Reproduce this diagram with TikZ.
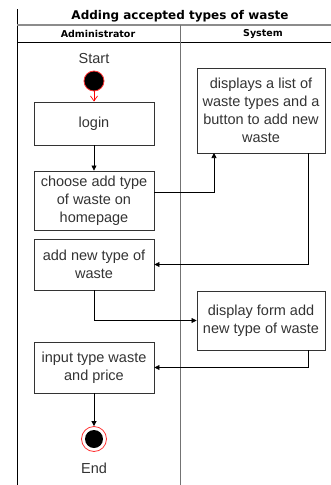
\documentclass[tikz,border=0pt]{standalone}
\usepackage{fontspec}
\setmainfont{Liberation Sans}
\newfontfamily\headfont{DejaVu Sans}
\usetikzlibrary{arrows.meta}

\begin{document}
\begin{tikzpicture}[x=1pt, y=-1pt,
    action/.style={
        draw=black!80,
        line width=0.9pt,
        minimum width=120pt,
        align=center,
        inner sep=1pt,
        font=\fontsize{14.5}{18}\selectfont,
        text=black!80
    },
    flow/.style={
        draw=black,
        line width=0.7pt,
        -{Triangle[length=5pt,width=5pt]}
    },
    lane/.style={
        font=\headfont\bfseries\fontsize{9.5}{11}\selectfont
    },
    label/.style={
        font=\fontsize{14.5}{18}\selectfont,
        text=black!80
    }
]
\useasboundingbox (0,0) rectangle (331,485);

%%%%%%%%%%%%%%%%%%%%%%%%
% Pool y lanes
%%%%%%%%%%%%%%%%%%%%%%%%

\draw[line width=1pt] (17,9) -- (17,485);
\draw[line width=1.6pt, black!45] (17,25) -- (331,25);
\draw[line width=1pt] (17,42) -- (331,42);
\draw[line width=1pt, black!55] (180,25) -- (180,485);

\node[lane, font=\headfont\bfseries\fontsize{12}{14}\selectfont] (title) at (180,16.5) {Adding accepted types of waste};
\node[lane] (admin) at (98,34) {Administrator};
\node[lane] (system) at (263,34) {System};

%%%%%%%%%%%%%%%%%%%%%%%%
% Administrator
%%%%%%%%%%%%%%%%%%%%%%%%

% --- Start ---
\node[label] (starttxt) at (94,59) {Start};
\node[circle, fill=black, draw=red!80, line width=0.8pt, minimum size=20pt, inner sep=0pt] (start) at (94,81) {};

% --- Acciones ---
\node[action, minimum height=43pt] (login) at (94,123.5) {login};
\node[action, minimum height=59pt] (choose) at (94,200.5) {choose add type\\of waste on\\homepage};
\node[action, minimum height=51pt] (addnew) at (94,264.5) {add new type of\\waste};
\node[action, minimum height=51pt] (input) at (94,367.5) {input type waste\\and price};

% --- End ---
\node[circle, draw=red!80, line width=0.8pt, minimum size=25pt, inner sep=0pt] (endring) at (94,439) {};
\node[circle, fill=black, minimum size=18pt, inner sep=0pt] (end) at (endring.center) {};
\node[label] (endtxt) at (94,468) {End};

%%%%%%%%%%%%%%%%%%%%%%%%
% System
%%%%%%%%%%%%%%%%%%%%%%%%

\node[action, minimum width=128pt, minimum height=85pt] (displays) at (261,110.5) {displays a list of\\waste types and a\\button to add new\\waste};
\node[action, minimum width=128pt, minimum height=59pt] (dispform) at (261,320.5) {display form add\\new type of waste};

%%%%%%%%%%%%%%%%%%%%%%%%
% Flechas
%%%%%%%%%%%%%%%%%%%%%%%%

\coordinate (c1) at (154,192);
\coordinate (c2) at (214,153);
\coordinate (c3) at (308,153);
\coordinate (c4) at (308,350);

\draw[red, line width=0.7pt, -{Straight Barb[length=5pt,width=7pt]}] (start) -- (login);
\draw[flow] (login) -- (choose);
\draw[flow] (c1) -| (c2);
\draw[flow] (c3) |- (addnew.east);
\draw[flow] (addnew.south) |- (dispform.west);
\draw[flow] (c4) |- (input.east);
\draw[flow] (input) -- (endring);

\end{tikzpicture}
\end{document}
